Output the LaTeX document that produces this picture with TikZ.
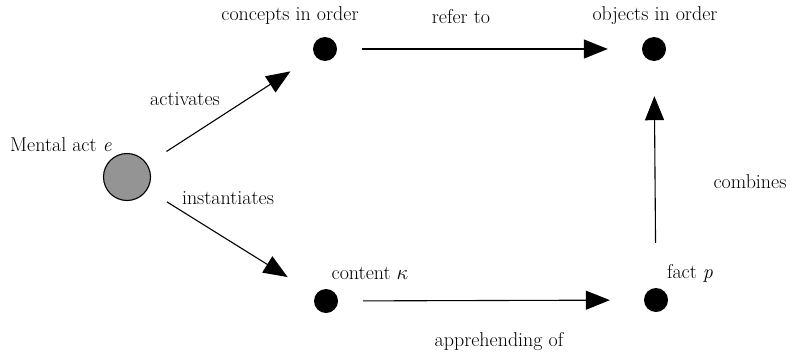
\documentclass[tikz,border=0pt]{standalone}
\usetikzlibrary{arrows.meta}
\begin{document}
\begin{tikzpicture}[x=1pt,y=-1pt,
  lbl/.style={inner sep=0pt,font=\fontsize{20}{24}\selectfont},
  dot/.style={circle,fill=black,inner sep=0pt,minimum size=24pt},
  big/.style={circle,draw=black,line width=1.1pt,fill=black!42,inner sep=0pt,minimum size=47pt},
  arr/.style={line width=1.1pt,-{Triangle[length=24pt,width=19pt]}}]
\useasboundingbox (0,0) rectangle (799,356);
\node[big] (A) at (127,177) {};
\node[dot] (C) at (325,49) {};
\node[dot] (O) at (654,49) {};
\node[dot] (K) at (326,301) {};
\node[dot] (F) at (656,300) {};
\node[lbl] (lA) at (61,145) {Mental act \textit{e}};
\node[lbl] (lC) at (290,16) {concepts in order};
\node[lbl] (lO) at (655,16) {objects in order};
\node[lbl] (lK) at (370,273) {content $\kappa$};
\node[lbl] (lF) at (690,273) {fact \textit{p}};
\node[lbl] (l1) at (185,99) {activates};
\node[lbl] (l2) at (228,198) {instantiates};
\node[lbl] (l3) at (461,17) {refer to};
\node[lbl] (l4) at (499,342) {apprehending of};
\node[lbl] (l5) at (750,182) {combines};
\draw[arr,shorten <=23pt,shorten >=29pt] (A) -- (C);
\draw[arr,shorten <=23pt,shorten >=33pt] (A) -- (K);
\draw[arr,shorten <=25pt,shorten >=34pt] (C) -- (O);
\draw[arr,shorten <=25pt,shorten >=34pt] (K) -- (F);
\draw[arr,shorten <=45pt,shorten >=35pt] (F) -- (O);
\end{tikzpicture}
\end{document}
